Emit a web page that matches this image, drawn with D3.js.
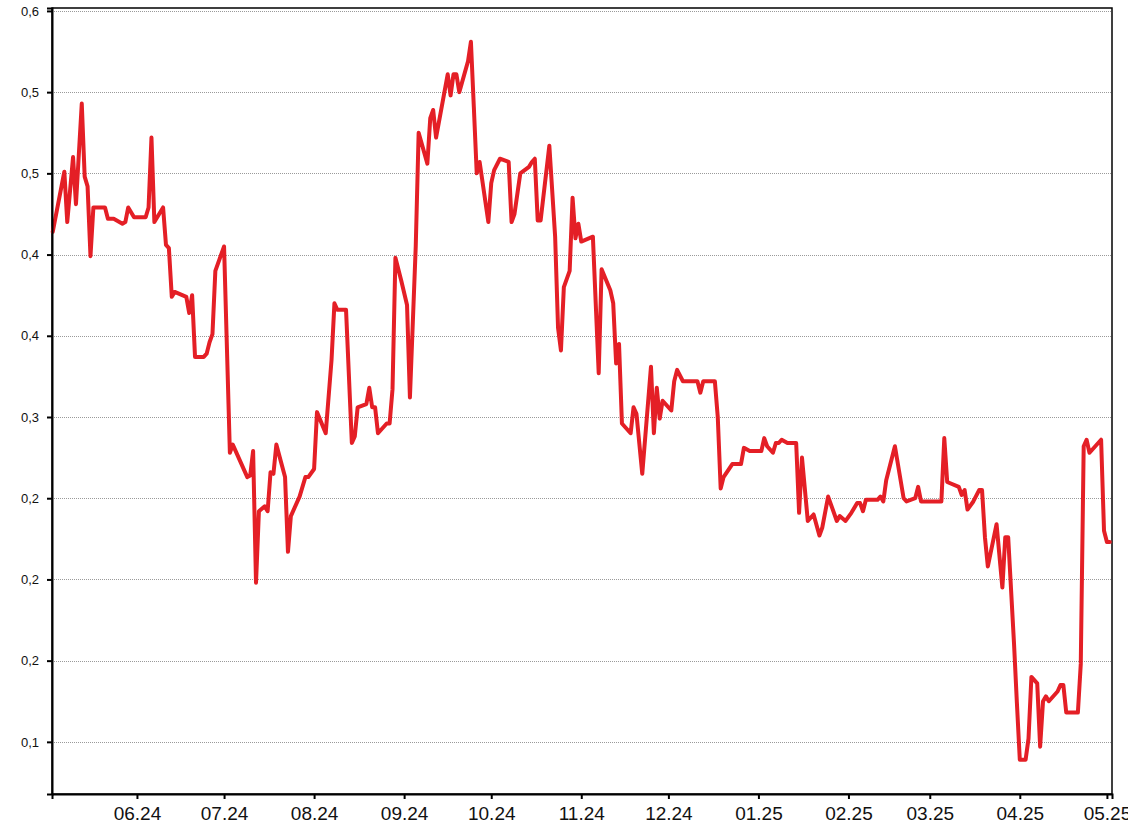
<!DOCTYPE html>
<html>
<head>
<meta charset="utf-8">
<script src="https://cdn.jsdelivr.net/npm/d3@7"></script>
<style>
  html, body { margin: 0; padding: 0; background: #fff; }
  svg { display: block; }
</style>
</head>
<body>
<div id="chart"></div>
<script>
// ---- data ----
const dates = [
  "2024-05-03","2024-05-07","2024-05-08","2024-05-10","2024-05-11","2024-05-13","2024-05-14","2024-05-15","2024-05-16","2024-05-17",
  "2024-05-21","2024-05-22","2024-05-24","2024-05-27","2024-05-28","2024-05-29","2024-05-31","2024-06-04","2024-06-05","2024-06-06",
  "2024-06-07","2024-06-10","2024-06-11","2024-06-12","2024-06-13","2024-06-14","2024-06-18","2024-06-19","2024-06-20","2024-06-21",
  "2024-06-24","2024-06-25","2024-06-26","2024-06-27","2024-06-28","2024-07-01","2024-07-03","2024-07-04","2024-07-09","2024-07-10",
  "2024-07-11","2024-07-12","2024-07-13","2024-07-15","2024-07-16","2024-07-17","2024-07-18","2024-07-19","2024-07-22","2024-07-23",
  "2024-07-24","2024-07-27","2024-07-29","2024-07-30","2024-08-01","2024-08-02","2024-08-05","2024-08-07","2024-08-08","2024-08-09",
  "2024-08-12","2024-08-14","2024-08-15","2024-08-16","2024-08-19","2024-08-20","2024-08-21","2024-08-22","2024-08-23","2024-08-26",
  "2024-08-27","2024-08-28","2024-08-29","2024-08-31","2024-09-02","2024-09-03","2024-09-05","2024-09-06","2024-09-09","2024-09-10",
  "2024-09-11","2024-09-12","2024-09-16","2024-09-17","2024-09-18","2024-09-19","2024-09-20","2024-09-23","2024-09-24","2024-09-25",
  "2024-09-26","2024-09-27","2024-09-30","2024-10-01","2024-10-02","2024-10-04","2024-10-07","2024-10-08","2024-10-09","2024-10-11",
  "2024-10-14","2024-10-15","2024-10-16","2024-10-17","2024-10-18","2024-10-21","2024-10-23","2024-10-24","2024-10-25","2024-10-26",
  "2024-10-28","2024-10-29","2024-10-30","2024-10-31","2024-11-01","2024-11-05","2024-11-07","2024-11-08","2024-11-11","2024-11-12",
  "2024-11-13","2024-11-14","2024-11-15","2024-11-18","2024-11-19","2024-11-20","2024-11-22","2024-11-25","2024-11-26","2024-11-27",
  "2024-11-28","2024-11-29","2024-12-02","2024-12-03","2024-12-04","2024-12-06","2024-12-11","2024-12-12","2024-12-13","2024-12-17",
  "2024-12-18","2024-12-19","2024-12-20","2024-12-23","2024-12-26","2024-12-27","2024-12-29","2025-01-02","2025-01-03","2025-01-04",
  "2025-01-06","2025-01-07","2025-01-08","2025-01-09","2025-01-11","2025-01-14","2025-01-15","2025-01-16","2025-01-18","2025-01-20",
  "2025-01-22","2025-01-23","2025-01-25","2025-01-28","2025-01-29","2025-01-31","2025-02-02","2025-02-04","2025-02-05","2025-02-06",
  "2025-02-07","2025-02-11","2025-02-12","2025-02-13","2025-02-14","2025-02-17","2025-02-20","2025-02-21","2025-02-24","2025-02-25",
  "2025-02-26","2025-03-01","2025-03-05","2025-03-06","2025-03-07","2025-03-11","2025-03-12","2025-03-13","2025-03-14","2025-03-16",
  "2025-03-18","2025-03-19","2025-03-20","2025-03-21","2025-03-24","2025-03-26","2025-03-27","2025-03-28","2025-03-30","2025-03-31",
  "2025-04-01","2025-04-03","2025-04-04","2025-04-05","2025-04-07","2025-04-08","2025-04-09","2025-04-10","2025-04-11","2025-04-14",
  "2025-04-15","2025-04-16","2025-04-17","2025-04-21","2025-04-22","2025-04-23","2025-04-24","2025-04-25","2025-04-29","2025-04-30",
  "2025-05-01","2025-05-02"
];
const values = [
  0.464,0.501,0.470,0.510,0.481,0.543,0.498,0.492,0.449,0.479,
  0.479,0.472,0.472,0.469,0.470,0.479,0.473,0.473,0.479,0.522,
  0.470,0.479,0.456,0.454,0.424,0.427,0.424,0.414,0.425,0.387,
  0.387,0.389,0.396,0.401,0.440,0.455,0.328,0.333,0.313,0.314,
  0.329,0.248,0.292,0.295,0.292,0.316,0.315,0.333,0.313,0.267,
  0.289,0.301,0.313,0.313,0.318,0.353,0.340,0.385,0.420,0.416,
  0.416,0.334,0.338,0.356,0.358,0.368,0.356,0.356,0.340,0.346,
  0.346,0.367,0.448,0.434,0.419,0.362,0.455,0.525,0.506,0.534,
  0.539,0.522,0.561,0.548,0.561,0.561,0.550,0.569,0.581,0.541,
  0.500,0.507,0.470,0.494,0.502,0.509,0.507,0.470,0.475,0.500,
  0.504,0.507,0.509,0.471,0.471,0.517,0.461,0.405,0.391,0.430,
  0.440,0.485,0.460,0.469,0.458,0.461,0.377,0.441,0.428,0.420,
  0.383,0.395,0.346,0.340,0.356,0.352,0.315,0.381,0.340,0.368,
  0.349,0.360,0.354,0.372,0.379,0.372,0.372,0.365,0.372,0.372,
  0.350,0.306,0.313,0.321,0.321,0.331,0.329,0.329,0.337,0.332,
  0.328,0.334,0.334,0.336,0.334,0.334,0.291,0.325,0.286,0.290,
  0.277,0.282,0.301,0.286,0.289,0.286,0.291,0.297,0.297,0.292,
  0.299,0.299,0.301,0.298,0.311,0.332,0.300,0.298,0.300,0.307,
  0.298,0.298,0.298,0.337,0.310,0.307,0.302,0.305,0.293,0.298,
  0.305,0.305,0.276,0.258,0.284,0.245,0.276,0.276,0.211,0.174,
  0.139,0.139,0.152,0.190,0.186,0.147,0.175,0.178,0.175,0.181,
  0.185,0.185,0.168,0.168,0.198,0.332,0.336,0.328,0.336,0.280,
  0.273,0.273
];
const yTickValues = [0.6,0.55,0.5,0.45,0.4,0.35,0.3,0.25,0.2,0.15];
const yTickLabels = ["0,6","0,5","0,5","0,4","0,4","0,3","0,2","0,2","0,2","0,1"];
const xTickDates = ["2024-06-01","2024-07-01","2024-08-01","2024-09-01","2024-10-01","2024-11-01",
                    "2024-12-01","2025-01-01","2025-02-01","2025-03-01","2025-04-01","2025-05-01"];
const xTickLabels = ["06.24","07.24","08.24","09.24","10.24","11.24","12.24","01.25","02.25","03.25","04.25","05.25"];
const xDomain = ["2024-05-02T18:00:00","2025-05-02T18:00:00"];
const yDomain = [0.1179, 0.6018];

// ---- layout ----
const W = 1128, H = 836;
const m = {left: 52, top: 8, right: 16, bottom: 42};
const iw = W - m.left - m.right, ih = H - m.top - m.bottom;

const parse = d3.isoParse;
const data = dates.map((d, i) => ({date: parse(d), value: values[i]}));

const x = d3.scaleTime().domain(xDomain.map(parse)).range([0, iw]);
const y = d3.scaleLinear().domain(yDomain).range([ih, 0]);

const svg = d3.select("#chart").append("svg").attr("width", W).attr("height", H);
const g = svg.append("g").attr("transform", `translate(${m.left},${m.top})`);

// grid
g.append("g").selectAll("line").data(yTickValues).join("line")
  .attr("x1", 0).attr("x2", iw)
  .attr("y1", d => Math.round(y(d)) + 0.5).attr("y2", d => Math.round(y(d)) + 0.5)
  .attr("stroke", "#9a9a9a").attr("stroke-width", 1).attr("stroke-dasharray", "1,1");

// frame top/right
g.append("rect").attr("x", 0).attr("y", 0).attr("width", iw).attr("height", ih)
  .attr("fill", "none").attr("stroke", "#000").attr("stroke-width", 1.5);

// line
const line = d3.line().x(d => x(d.date)).y(d => y(d.value));
g.append("path").datum(data)
  .attr("fill", "none").attr("stroke", "#e41f26").attr("stroke-width", 4)
  .attr("stroke-linejoin", "round").attr("stroke-linecap", "round")
  .attr("d", line);

// y axis
const yAxis = d3.axisLeft(y).tickValues(yTickValues)
  .tickFormat((d, i) => yTickLabels[i]).tickSize(5).tickPadding(8);
const ya = g.append("g").call(yAxis);
ya.select(".domain").attr("stroke", "#000").attr("stroke-width", 2);
ya.selectAll(".tick line").attr("stroke", "#000").attr("stroke-width", 2);
ya.selectAll(".tick text").attr("font-family", "Arial, 'Liberation Sans', sans-serif")
  .attr("font-size", 13).attr("fill", "#111");

// x axis
const xAxis = d3.axisBottom(x).tickValues(xTickDates.map(parse))
  .tickFormat((d, i) => xTickLabels[i]).tickSize(5).tickPadding(8);
const xa = g.append("g").attr("transform", `translate(0,${ih})`).call(xAxis);
xa.select(".domain").attr("stroke", "#000").attr("stroke-width", 2);
xa.selectAll(".tick line").attr("stroke", "#000").attr("stroke-width", 2);
xa.selectAll(".tick text").attr("font-family", "Arial, 'Liberation Sans', sans-serif")
  .attr("font-size", 19).attr("fill", "#111");
</script>
</body>
</html>
